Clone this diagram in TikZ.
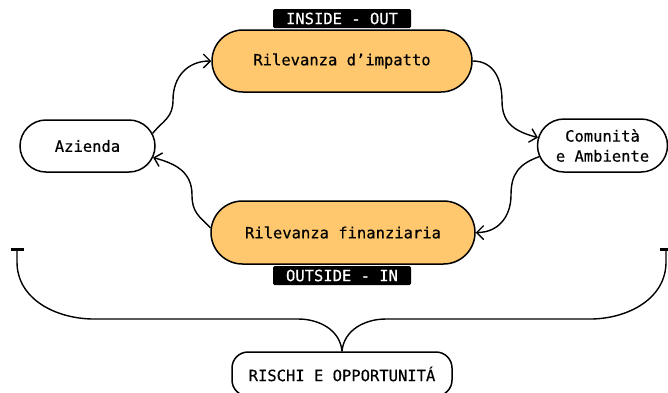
\documentclass[tikz,border=0pt]{standalone}
\usepackage{fontspec}
\newfontfamily\diagfont[FakeBold=0.45]{DejaVu Sans Mono}
\usetikzlibrary{arrows.meta,shapes.misc,calc}
\definecolor{pillfill}{HTML}{FFC86E}
\begin{document}
\begin{tikzpicture}[x=1pt,y=1pt,
  font=\diagfont\fontsize{15.5}{20}\selectfont,
  pill/.style={rounded rectangle, draw=black, line width=1.5pt, inner sep=0pt},
  orangepill/.style={pill, fill=pillfill},
  whitepill/.style={pill, fill=white},
  tag/.style={fill=black, text=white, rounded corners=1.5pt, minimum width=138pt, minimum height=19pt, inner sep=0pt},
  link/.style={line width=1.4pt, -{Straight Barb[length=7pt,width=14pt]}},
  brace/.style={line width=1.4pt},
  bracebox/.style={draw=black, line width=1.5pt, rounded corners=16pt, fill=white, minimum width=220pt, minimum height=44pt, inner sep=0pt}
]
\useasboundingbox (0,0) rectangle (668,-392);
\clip (0,0) rectangle (668,-392);

\node[orangepill, minimum width=260pt, minimum height=62pt] (imp) at (342,-61) {Rilevanza d’impatto};
\node[orangepill, minimum width=264pt, minimum height=63pt] (fin) at (343,-232.5) {Rilevanza finanziaria};
\node[whitepill, minimum width=135pt, minimum height=52pt] (az) at (87.5,-146) {Azienda};
\node[whitepill, minimum width=130pt, minimum height=53pt, align=center] (com) at (602.5,-145.5) {Comunità\\e Ambiente};
\node[tag] (tin) at (342,-18.5) {INSIDE - OUT};
\node[tag] (tout) at (342,-275.5) {OUTSIDE - IN};
\node[bracebox] (risk) at (342,-374) {RISCHI E OPPORTUNITÁ};

\coordinate (m1) at (173,-100);
\coordinate (m2) at (502,-101);
\coordinate (m3) at (511,-195);
\coordinate (m4) at (192,-195);
\draw[link] (az.11) to[out=50,in=-90,looseness=1.15] (m1) to[out=90,in=180,looseness=1.1] (imp.west);
\draw[link] (imp.east) to[out=0,in=90,looseness=1.1] (m2) to[out=-90,in=165,looseness=1.15] (com.173);
\draw[link] (com.190) to[out=200,in=90,looseness=1.15] (m3) to[out=-90,in=0,looseness=1.1] (fin.east);
\draw[link] (fin.178) to[out=135,in=-90,looseness=1.15] (m4) to[out=90,in=-15,looseness=1.1] (az.-10);

\coordinate (bl) at (17,-248);
\coordinate (br) at (666,-248);
\coordinate (bl1) at (298,-319);
\coordinate (bl2) at (94,-319);
\coordinate (bl3) at (17,-262);
\coordinate (br1) at (386,-319);
\coordinate (br2) at (590,-319);
\coordinate (br3) at (666,-262);
\draw[brace, -{Bar[width=13pt,line width=2.5pt]}] (risk.north) to[out=95,in=0] (bl1) -- (bl2) to[out=180,in=-90] (bl3) -- (bl);
\draw[brace, -{Bar[width=13pt,line width=2.5pt]}] (risk.north) to[out=85,in=180] (br1) -- (br2) to[out=0,in=-90] (br3) -- (br);
\end{tikzpicture}
\end{document}
